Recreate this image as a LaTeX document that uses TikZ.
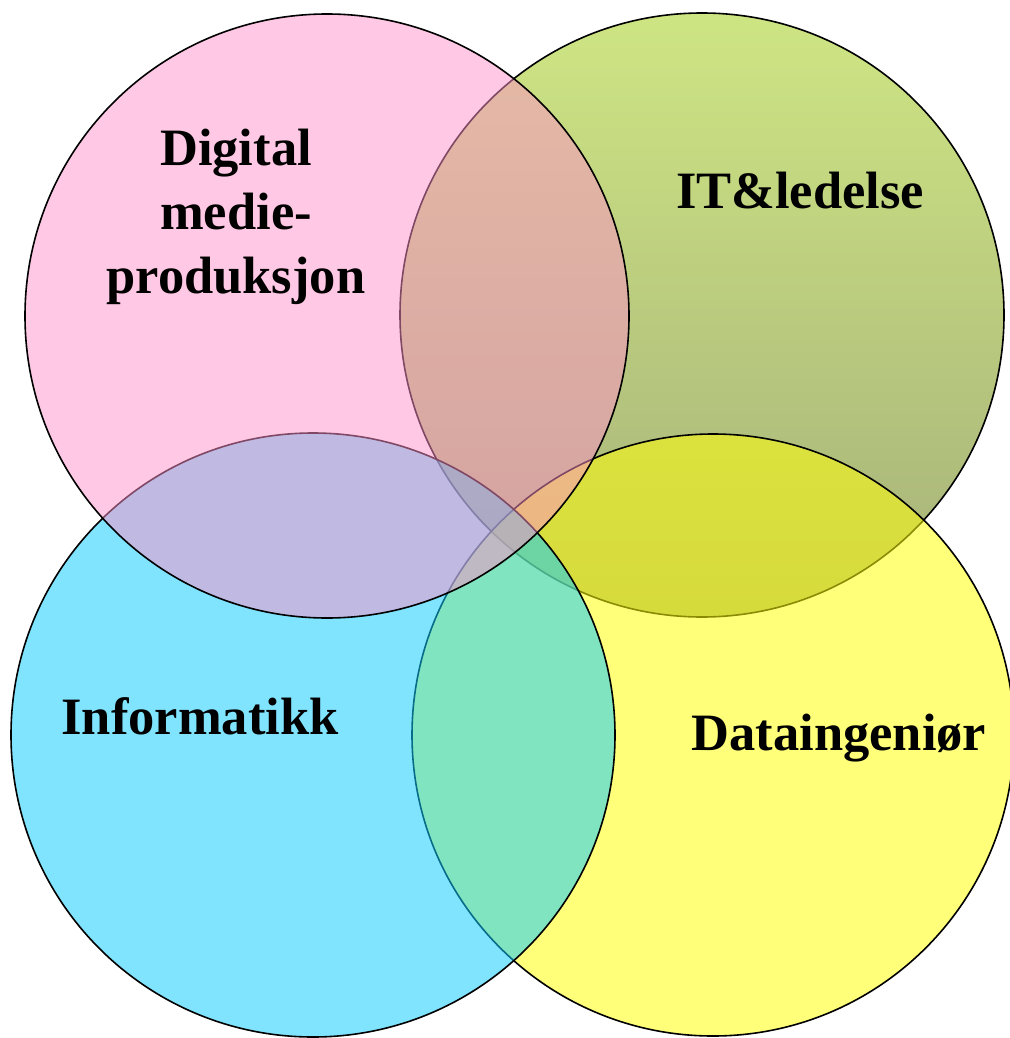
\documentclass[tikz,border=0pt]{standalone}
\usepackage{fontspec}
\setmainfont{Liberation Serif}
\definecolor{pinkc}{RGB}{255,145,201}
\definecolor{cyanc}{RGB}{15,204,255}
\definecolor{yellowc}{RGB}{255,255,9}
\definecolor{greentop}{RGB}{206,229,131}
\definecolor{greenmid}{RGB}{194,214,127}
\definecolor{greenbot}{RGB}{166,177,122}
\tikzset{
  ring/.style={draw=black, line width=1.6pt},
  label/.style={font=\bfseries\fontsize{52.5}{64}\selectfont, text=black, inner sep=0pt, anchor=base, align=center}
}
\begin{document}
\begin{tikzpicture}[x=1pt,y=-1pt]
\useasboundingbox (0,0) rectangle (1009,1038);
% green (bottom layer)
\shade[top color=greentop, middle color=greenmid, bottom color=greenbot] (702,315) circle (302);
\draw[ring] (702,315) circle (302);
% yellow
\fill[yellowc, fill opacity=0.54] (713,735) circle (301);
\draw[ring] (713,735) circle (301);
% cyan
\fill[cyanc, fill opacity=0.53] (313,735) circle (302);
\draw[ring] (313,735) circle (302);
% pink (top layer)
\fill[pinkc, fill opacity=0.5] (327,316) circle (302);
\draw[ring] (327,316) circle (302);
% labels
\node[label] (dmp) at (236,293) {Digital\\medie-\\produksjon};
\node[label] (itl) at (800,208) {IT\&ledelse};
\node[label] (inf) at (200,734) {Informatikk};
\node[label] (dat) at (839,750) {Dataingeniør};
\end{tikzpicture}
\end{document}
